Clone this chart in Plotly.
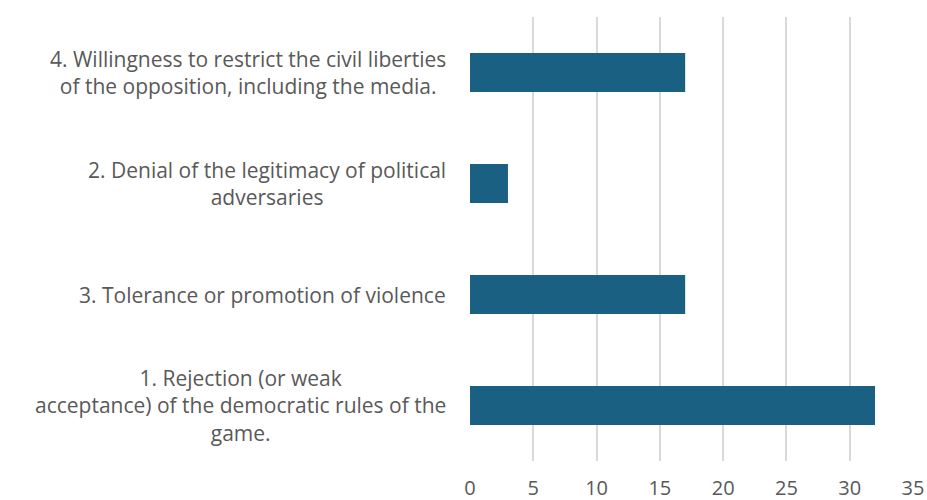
import plotly.graph_objects as go

categories = [
    "1. Rejection (or weak<br>acceptance) of the democratic rules of the<br>game.",
    "3. Tolerance or promotion of violence",
    "2. Denial of the legitimacy of political<br>adversaries",
    "4. Willingness to restrict the civil liberties<br>of the opposition, including the media.",
]
values = [32, 17, 3, 17]
tick_vals = [0, 5, 10, 15, 20, 25, 30, 35]

FONT = "Open Sans"
GRAY = "#595959"

fig = go.Figure(
    go.Bar(
        x=values,
        y=categories,
        orientation="h",
        marker=dict(color="#1a6083", line=dict(width=0)),
        width=0.35,
        hoverinfo="x+y",
    )
)

for c in categories:
    fig.add_annotation(
        x=0, xref="paper", y=c, yref="y",
        text=c, showarrow=False,
        xanchor="right", yanchor="middle", align="center",
        xshift=-22,
        font=dict(family=FONT, size=21, color=GRAY),
    )

fig.update_layout(
    width=927, height=500,
    margin=dict(l=470, r=14, t=17, b=39, autoexpand=False),
    paper_bgcolor="white", plot_bgcolor="white",
    showlegend=False,
    font=dict(family=FONT, size=20, color=GRAY),
)
fig.update_xaxes(
    range=[0, 35], tickvals=tick_vals,
    showgrid=True, gridcolor="#d9d9d9", gridwidth=2,
    zeroline=False, showline=False, ticks="",
    automargin=False, ticklabeloverflow="allow",
    ticklabelstandoff=13,
    tickfont=dict(family=FONT, size=20, color=GRAY),
)
fig.update_yaxes(
    categoryorder="array", categoryarray=categories,
    automargin=False,
    showticklabels=False, showgrid=False, zeroline=False, showline=False,
)

fig.write_html(
    "out.html",
    config={"displayModeBar": False},
    post_script="document.body.style.margin='0';document.body.style.overflow='hidden';",
)
